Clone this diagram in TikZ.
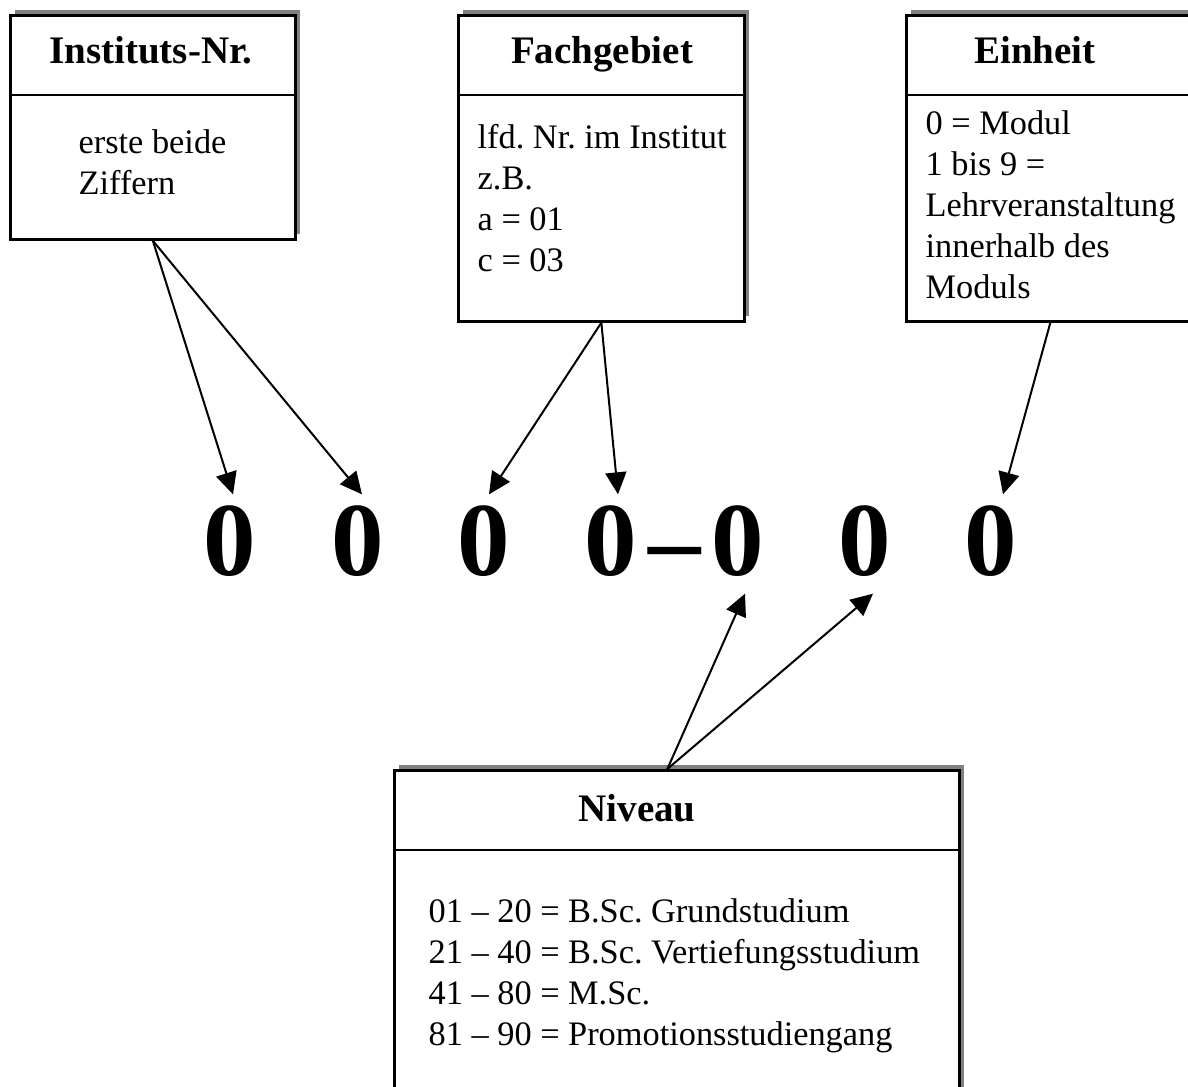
\documentclass[tikz,border=0pt]{standalone}
\usepackage{fontspec}
\setmainfont{Liberation Serif}
\usetikzlibrary{arrows.meta,shadows}
\frenchspacing

\tikzset{
  box/.style={draw, line width=0.8pt, fill=white, anchor=north west, inner sep=0pt,
    general shadow={fill=black!50, shadow xshift=1.5pt, shadow yshift=1.5pt}},
  head/.style={anchor=base, inner sep=0pt, font=\fontsize{11.7}{14}\selectfont\bfseries},
  body/.style={anchor=base west, inner sep=0pt, align=left, font=\fontsize{10.3}{12.3}\selectfont},
  digit/.style={anchor=base, inner sep=0pt, text height=24pt, text depth=5.4pt,
    font=\fontsize{31.5}{36}\selectfont\bfseries},
  pfeil/.style={line width=0.6pt, -{Triangle[length=6.6pt, width=6.3pt]}},
  trenn/.style={line width=0.8pt},
}

\begin{document}
\begin{tikzpicture}[x=0.3pt, y=-0.3pt]
        \useasboundingbox (0,0) rectangle (1188,1086);
        \clip (0,0) rectangle (1188,1086);
        % Kaesten
        \node[box, minimum width=85.5pt, minimum height=67.2pt] (inst) at (9,14) {};
        \node[box, minimum width=85.8pt, minimum height=91.8pt] (fach) at (457,14) {};
        \node[box, minimum width=86.4pt, minimum height=91.8pt] (einh) at (905,14) {};
        \node[box, minimum width=169.5pt, minimum height=102pt] (niv) at (393,769) {};
        \draw[trenn] ([yshift=-24.3pt]inst.north west) -- ([yshift=-24.3pt]inst.north east);
        \draw[trenn] ([yshift=-24.3pt]fach.north west) -- ([yshift=-24.3pt]fach.north east);
        \draw[trenn] ([yshift=-24.3pt]einh.north west) -- ([yshift=-24.3pt]einh.north east);
        \draw[trenn] ([yshift=-24.3pt]niv.north west) -- ([yshift=-24.3pt]niv.north east);
        % Ueberschriften
        \node[head] (instkopf) at (151,63) {Instituts-Nr.};
        \node[head] (fachkopf) at (602,63) {Fachgebiet};
        \node[head] (einhkopf) at (1035,63) {Einheit};
        \node[head] (nivkopf) at (637,821) {Niveau};
        % Inhalt (Basislinie der letzten Zeile)
        \node[body] (insttext) at (78,194) {erste beide\\Ziffern};
        \node[body] (fachtext) at (477,271) {lfd. Nr. im Institut\\z.B.\\a = 01\\c = 03};
        \node[body] (einhtext) at (925,298) {0 = Modul\\1 bis 9 =\\Lehrveranstaltung\\innerhalb des\\Moduls};
        \node[body] (nivtext) at (428,1045) {01 -- 20 = B.Sc. Grundstudium\\21 -- 40 = B.Sc. Vertiefungsstudium\\41 -- 80 = M.Sc.\\81 -- 90 = Promotionsstudiengang};
        % Nummer
        \node[digit] (d1) at (230,575) {0};
        \node[digit] (d2) at (357.5,575) {0};
        \node[digit] (d3) at (484,575) {0};
        \node[digit] (d4) at (611,575) {0};
        \node[digit] (strich) at (675,575) {--};
        \node[digit] (d5) at (738,575) {0};
        \node[digit] (d6) at (864.5,575) {0};
        \node[digit] (d7) at (990.5,575) {0};
        % Pfeile
        \draw[pfeil] (inst.south) -- ([xshift=0.9pt]d1.north);
        \draw[pfeil] (inst.south) -- ([xshift=1.35pt]d2.north);
        \draw[pfeil] (fach.south) -- ([xshift=1.5pt]d3.north);
        \draw[pfeil] (fach.south) -- ([xshift=2.1pt]d4.north);
        \draw[pfeil] (einh.south) -- ([xshift=3.75pt]d7.north);
        \draw[pfeil] ([xshift=-2.85pt]niv.north) -- ([xshift=2.1pt]d5.south);
        \draw[pfeil] ([xshift=-2.85pt]niv.north) -- ([xshift=2.55pt]d6.south);
\end{tikzpicture}
\end{document}
